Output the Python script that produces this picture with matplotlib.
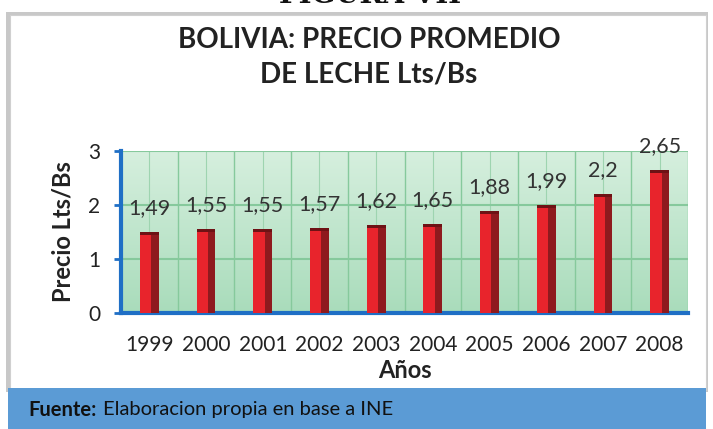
import matplotlib
matplotlib.use("Agg")
import matplotlib.pyplot as plt
import numpy as np
from matplotlib.patches import Rectangle
from matplotlib.colors import LinearSegmentedColormap

years = ["1999", "2000", "2001", "2002", "2003", "2004", "2005", "2006", "2007", "2008"]
precio = [1.49, 1.55, 1.55, 1.57, 1.62, 1.65, 1.88, 1.99, 2.2, 2.65]
etiquetas = ["1,49", "1,55", "1,55", "1,57", "1,62", "1,65", "1,88", "1,99", "2,2", "2,65"]
yticks = [0, 1, 2, 3]

FONT = "Lato"
W, H = 713, 429
fig = plt.figure(figsize=(W / 100, H / 100), dpi=100)
fig.patch.set_facecolor("white")

def fx(px):
    return px / W

def fy(py):
    return 1 - py / H

# chart frame with grey shadow
fig.patches.append(Rectangle((fx(6), fy(392)), fx(702), (380) / H, transform=fig.transFigure,
                             facecolor="#c8c8c8", edgecolor="none", zorder=0))
fig.patches.append(Rectangle((fx(10), fy(390)), fx(696), (375) / H, transform=fig.transFigure,
                             facecolor="white", edgecolor="#d0d0d0", lw=0.8, zorder=1))
# footer band
fig.patches.append(Rectangle((fx(8), 0), fx(698), (429 - 388) / H, transform=fig.transFigure,
                             facecolor="#5b9bd5", edgecolor="none", zorder=2))
fig.text(fx(28), fy(410), "Fuente:", fontsize=14.5, fontweight="bold", family=FONT,
         va="center", ha="left", color="#111111", zorder=3)
fig.text(fx(103), fy(410), "Elaboracion propia en base a INE", fontsize=14.5, family=FONT,
         va="center", ha="left", color="#111111", zorder=3)

# cropped top heading
fig.text(fx(370), fy(9), "FIGURA VII", fontsize=20, fontweight="bold", family="DejaVu Serif",
         va="bottom", ha="center", color="#111111")

# title
fig.text(fx(369), fy(40), "BOLIVIA: PRECIO PROMEDIO", fontsize=20, fontweight="bold",
         family=FONT, ha="center", va="center", color="#222222", zorder=3)
fig.text(fx(369), fy(75), "DE LECHE Lts/Bs", fontsize=20, fontweight="bold",
         family=FONT, ha="center", va="center", color="#222222", zorder=3)

ax = fig.add_axes([fx(121), fy(312.7), fx(688 - 121), (312.7 - 150.7) / H], zorder=4)
ax.set_xlim(-0.5, len(years) - 0.5)
ax.set_ylim(0, 3)

# gradient background
grad = np.linspace(0, 1, 256).reshape(-1, 1)
cmap = LinearSegmentedColormap.from_list("g", ["#a9dcbb", "#d6efde"])
ax.imshow(grad, aspect="auto", cmap=cmap, origin="lower",
          extent=[-0.5, len(years) - 0.5, 0, 3], zorder=0)

# grid
for i in range(len(years) + 1):
    ax.axvline(i - 0.5, color="#86c99c", lw=1.0, zorder=1)
for i in range(len(years)):
    ax.axvline(i, color="#9ed4b0", lw=0.8, zorder=1)
for v in [1, 2, 3]:
    ax.axhline(v, color="#86c99c", lw=1.5, zorder=1)

x = np.arange(len(years))
bw = 0.33
ax.bar(x, precio, width=bw, color="#e8242c", edgecolor="none", zorder=3)
ax.bar(x + bw * 0.3, precio, width=bw * 0.4, color="#8e1a1e", edgecolor="none", zorder=4)
ax.bar(x, [0.06] * len(x), bottom=[p - 0.06 for p in precio], width=bw,
       color="#6e1215", edgecolor="none", zorder=5)

for xi, p, lab in zip(x, precio, etiquetas):
    ax.annotate(lab, (xi, p), xytext=(0, 10), textcoords="offset points", ha="center",
                va="bottom", fontsize=15.5, family=FONT, color="#333333", zorder=6)

ax.set_xticks(x)
ax.set_xticklabels(years, fontsize=15, family=FONT, color="#222222")
ax.set_yticks(yticks)
ax.set_yticklabels([str(t) for t in yticks], fontsize=15, family=FONT, color="#222222")
ax.tick_params(axis="x", length=0, pad=16)
ax.tick_params(axis="y", length=5, width=2, color="#1f6fc5", pad=10)
for s in ["top", "right"]:
    ax.spines[s].set_visible(False)
for s in ["left", "bottom"]:
    ax.spines[s].set_color("#1f6fc5")
    ax.spines[s].set_linewidth(3)
ax.set_xlabel("Años", fontsize=17, fontweight="bold", family=FONT, color="#222222", labelpad=3)
ax.set_ylabel("Precio Lts/Bs", fontsize=17, fontweight="bold", family=FONT, color="#222222",
              labelpad=10)

fig.savefig("out.png", dpi=100)
